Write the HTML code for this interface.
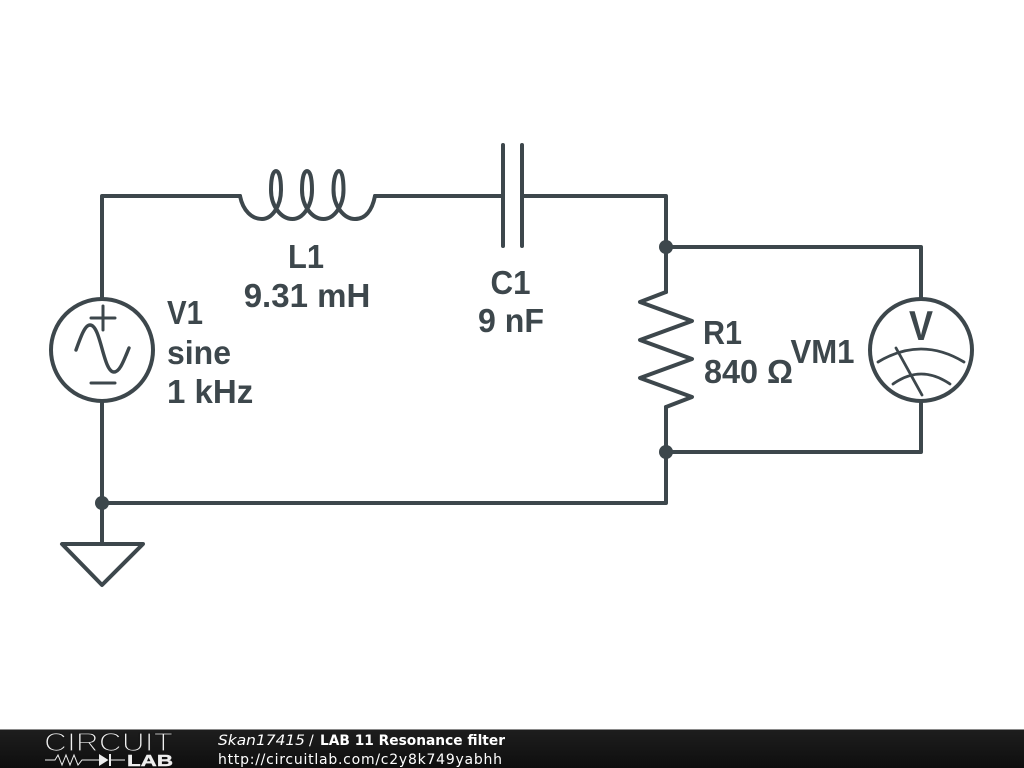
<!DOCTYPE html>
<html>
<head>
<meta charset="utf-8">
<style>
html,body{margin:0;padding:0;background:#fff;width:1024px;height:768px;overflow:hidden}
svg{display:block}
</style>
</head>
<body>
<svg width="1024" height="768" viewBox="0 0 1024 768" xmlns="http://www.w3.org/2000/svg">
<defs>
<linearGradient id="bar" x1="0" y1="0" x2="0" y2="1">
<stop offset="0" stop-color="#1e1e1e"/>
<stop offset="1" stop-color="#0e0e0e"/>
</linearGradient>
</defs>
<rect width="1024" height="768" fill="#fff"/>
<g fill="none" stroke="#3d474c" stroke-width="4" stroke-linecap="round" stroke-linejoin="round">
<!-- wires -->
<path d="M102 298V196H240"/>
<path d="M375 196H502"/>
<path d="M522 196H666V292"/>
<path d="M666 247H921V299"/>
<path d="M666 407V503H102"/>
<path d="M666 452H921V401"/>
<path d="M102 401V544"/>
<!-- inductor -->
<path d="M240 196C243 211 252 219 262 219C272 219 281 206 281 190C281 178 279 171 276 171C273 171 271 178 271 190C271 206 281 219 292.500 219C303 219 312 206 312 190C312 178 310 171 307 171C304 171 302 178 302 190C302 206 312 219 323.500 219C334 219 343.500 206 343.500 190C343.500 178 342 171 339 171C336 171 333.500 178 333.500 190C333.500 206 344 219 355 219C365 219 372 211 375 196"/>
<!-- capacitor -->
<path d="M503 145V246M522 145V246"/>
<!-- resistor -->
<path d="M666 292L640 302L692 321L640 340L692 359L640 378L692 397L666 407"/>
<!-- source -->
<circle cx="102" cy="350" r="51"/>
<path stroke-width="3" d="M91 318H115M103 306V330M91 383H115"/>
<path stroke-width="3.400" d="M76 350C81 336 85 325 90 325C101 325 103 372 114 372C120 372 124 360 129 348"/>
<!-- meter -->
<circle cx="921" cy="350" r="51"/>
<path stroke-width="2.800" d="M878 362Q921 336 964 362M893 384Q921 364 950 384M896 348L922 395"/>
<!-- ground -->
<path d="M62 544H143L102 585Z"/>
</g>
<g fill="#3d474c">
<circle cx="666" cy="247" r="7"/>
<circle cx="666" cy="452" r="7"/>
<circle cx="102" cy="503" r="7"/>
</g>
<g fill="#3d474c" font-family="'Liberation Sans',sans-serif" font-weight="700" font-size="33">
<text x="288" y="268" textLength="36" lengthAdjust="spacingAndGlyphs">L1</text>
<text x="307" y="307" text-anchor="middle">9.31 mH</text>
<text x="490.500" y="294" textLength="40" lengthAdjust="spacingAndGlyphs">C1</text>
<text x="478" y="332" textLength="66" lengthAdjust="spacingAndGlyphs">9 nF</text>
<text x="703" y="344" textLength="39" lengthAdjust="spacingAndGlyphs">R1</text>
<text x="704" y="383" textLength="89" lengthAdjust="spacingAndGlyphs">840 Ω</text>
<text x="790.500" y="363" textLength="64" lengthAdjust="spacingAndGlyphs">VM1</text>
<text x="167" y="324" textLength="36" lengthAdjust="spacingAndGlyphs">V1</text>
<text x="167" y="364" textLength="64" lengthAdjust="spacingAndGlyphs">sine</text>
<text x="167" y="403">1 kHz</text>
<text x="909" y="340" font-size="42" textLength="24" lengthAdjust="spacingAndGlyphs">V</text>
</g>
<!-- footer -->
<rect x="0" y="729" width="1024" height="39" fill="url(#bar)"/>
<rect x="0" y="729" width="1024" height="1" fill="#8a8a8a"/>
<text x="44" y="751" font-family="'Liberation Sans',sans-serif" font-size="26" fill="#f0f0f0" stroke="#181818" stroke-width="1.300" textLength="129" lengthAdjust="spacingAndGlyphs">CIRCUIT</text>
<path d="M45 760H55L58 755L62 765L66 755L70 765L74 755L78 765L82 760H99M110 760H125" fill="none" stroke="#eee" stroke-width="1"/>
<path d="M99 754L108.500 760L99 766ZM109 754H111V766H109Z" fill="#eee"/>
<text x="127" y="766" font-family="'Liberation Sans',sans-serif" font-weight="700" font-size="16" fill="#eee" stroke="#eee" stroke-width="0.400" textLength="46" lengthAdjust="spacingAndGlyphs">LAB</text>
<g font-family="'DejaVu Sans',sans-serif" font-size="14" fill="#fff">
<text x="218" y="745" font-style="italic" textLength="87" lengthAdjust="spacingAndGlyphs">Skan17415</text>
<text x="309" y="745">/</text>
<text x="320" y="745" font-weight="700" textLength="185" lengthAdjust="spacingAndGlyphs">LAB 11 Resonance filter</text>
<text x="218" y="764" textLength="284">http://circuitlab.com/c2y8k749yabhh</text>
</g>
</svg>
</body>
</html>
